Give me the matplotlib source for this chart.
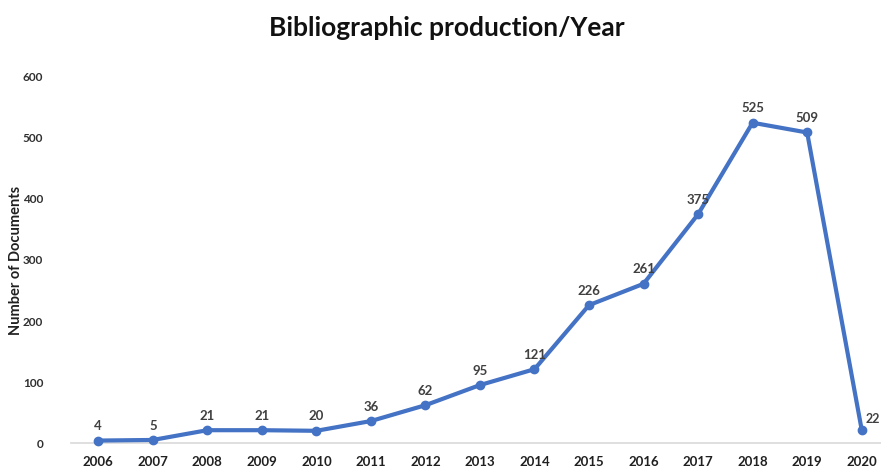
import numpy as np
import matplotlib.pyplot as plt

# Data
years = ['2006', '2007', '2008', '2009', '2010', '2011', '2012', '2013',
         '2014', '2015', '2016', '2017', '2018', '2019', '2020']
docs = [4, 5, 21, 21, 20, 36, 62, 95, 121, 226, 261, 375, 525, 509, 22]

plt.rcParams['font.family'] = ['Lato', 'DejaVu Sans']

fig = plt.figure(figsize=(8.81, 4.68), dpi=100)
# axes runs slightly past the right edge, like the cropped original
ax = fig.add_axes([0.0806, 0.0534, 0.9284, 0.7821])

x = np.arange(len(years))
ax.plot(x, docs, color='#4472C4', linewidth=3, marker='o', markersize=6,
        clip_on=False, zorder=3)

for i, v in enumerate(docs):
    if i == len(docs) - 1:
        ax.annotate(str(v), (x[i], v), xytext=(3, 3), textcoords='offset points',
                    ha='left', va='bottom', fontsize=9, fontweight='bold',
                    color='#404040', annotation_clip=False)
    else:
        ax.annotate(str(v), (x[i], v), xytext=(0, 6), textcoords='offset points',
                    ha='center', va='bottom', fontsize=9.5, fontweight='bold',
                    color='#404040')

ax.set_xlim(-0.5, len(years) - 0.5)
ax.set_ylim(0, 600)
ax.set_xticks(x)
ax.set_xticklabels(years, fontsize=9.5, fontweight='bold', color='#202020')
ax.set_yticks(np.arange(0, 601, 100))
ax.set_yticklabels([str(t) for t in range(0, 601, 100)], fontsize=8.5,
                   fontweight='bold', color='#303030')
ax.tick_params(length=0, pad=9)
ax.tick_params(axis='y', pad=20)

for s in ['top', 'right', 'left']:
    ax.spines[s].set_visible(False)
ax.spines['bottom'].set_color('#d9d9d9')
ax.spines['bottom'].set_linewidth(1.2)

ax.set_ylabel('Number of Documents', fontsize=10.5, fontweight='bold',
              color='#202020', labelpad=0)
fig.suptitle('Bibliographic production/Year', x=0.507, y=0.965,
             fontsize=19, fontweight='bold', color='#111111')

plt.savefig('out.png', dpi=100)
